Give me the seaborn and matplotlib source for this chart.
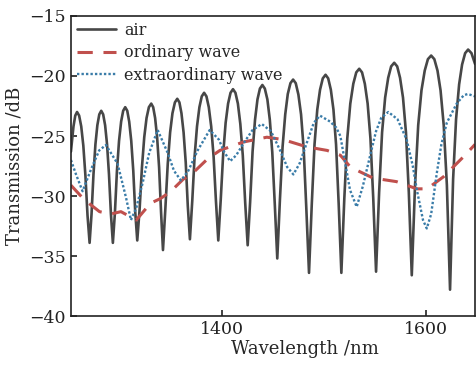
import matplotlib
matplotlib.use("Agg")
import matplotlib.pyplot as plt
import seaborn as sns

# air: transmission spectrum (one row per half fringe)
air_wl = [1252, 1254.5, 1256.25, 1258.0,
          1260.05, 1262.1, 1264.15, 1266.2, 1268.25, 1270.3,
          1272.2, 1274.1, 1276.0, 1277.9, 1279.8, 1281.7,
          1283.6, 1285.5, 1287.4, 1289.3, 1291.2, 1293.1,
          1295.1, 1297.1, 1299.15, 1301.2, 1303.2, 1305.2,
          1307.2, 1309.1, 1311.1, 1313.1, 1315.0, 1317.0,
          1319.3, 1321.6, 1323.85, 1326.1, 1328.4, 1330.7,
          1332.6, 1334.5, 1336.45, 1338.4, 1340.3, 1342.2,
          1344.5, 1346.9, 1349.2, 1351.5, 1353.9, 1356.2,
          1358.3, 1360.3, 1362.4, 1364.5, 1366.5, 1368.6,
          1370.9, 1373.2, 1375.55, 1377.9, 1380.2, 1382.5,
          1384.8, 1387.1, 1389.45, 1391.8, 1394.1, 1396.4,
          1398.8, 1401.2, 1403.6, 1406.0, 1408.4, 1410.8,
          1413.2, 1415.6, 1418.0, 1420.4, 1422.8, 1425.2,
          1427.6, 1430.0, 1432.4, 1434.8, 1437.2, 1439.6,
          1442.0, 1444.5, 1446.9, 1449.3, 1451.8, 1454.2,
          1456.8, 1459.4, 1462.0, 1464.5, 1467.1, 1469.7,
          1472.3, 1474.9, 1477.5, 1480.1, 1482.7, 1485.3,
          1488.0, 1490.7, 1493.4, 1496.1, 1498.8, 1501.5,
          1504.1, 1506.7, 1509.25, 1511.8, 1514.4, 1517.0,
          1519.9, 1522.8, 1525.75, 1528.7, 1531.6, 1534.5,
          1537.25, 1540.0, 1542.75, 1545.5, 1548.25, 1551.0,
          1554.0, 1556.9, 1559.9, 1562.9, 1565.8, 1568.8,
          1571.7, 1574.5, 1577.4, 1580.3, 1583.1, 1586.0,
          1589.2, 1592.3, 1595.5, 1598.7, 1601.8, 1605.0,
          1608.1, 1611.2, 1614.2, 1617.3, 1620.4, 1623.5,
          1626.5, 1629.4, 1632.4, 1635.3, 1638.3, 1641.2,
          1644.5, 1648]
air_db = [-26.3, -24.2, -23.3, -23.0,
          -23.3, -24.2, -25.8, -28.3, -31.6, -33.9,
          -31.5, -28.2, -25.7, -24.1, -23.2, -22.9,
          -23.2, -24.1, -25.7, -28.2, -31.5, -33.9,
          -31.4, -27.9, -25.4, -23.8, -22.9, -22.6,
          -22.9, -23.8, -25.4, -27.9, -31.3, -33.7,
          -31.1, -27.6, -25.1, -23.5, -22.6, -22.3,
          -22.6, -23.5, -25.1, -27.6, -31.3, -34.5,
          -31.1, -27.3, -24.7, -23.1, -22.2, -21.9,
          -22.2, -23.1, -24.7, -27.2, -30.8, -33.6,
          -30.4, -26.7, -24.2, -22.6, -21.7, -21.4,
          -21.7, -22.6, -24.2, -26.7, -30.4, -33.7,
          -30.3, -26.5, -23.9, -22.3, -21.4, -21.1,
          -21.4, -22.3, -24.0, -26.6, -30.6, -34.1,
          -30.5, -26.3, -23.65, -21.95, -21.05, -20.75,
          -21.05, -21.95, -23.65, -26.35, -30.75, -35.2,
          -30.3, -25.9, -23.2, -21.5, -20.6, -20.3,
          -20.6, -21.55, -23.2, -26.1, -31.1, -36.4,
          -30.7, -25.7, -22.8, -21.15, -20.2, -19.9,
          -20.2, -21.15, -22.8, -25.7, -30.7, -36.4,
          -30.2, -25.2, -22.3, -20.65, -19.7, -19.4,
          -19.7, -20.65, -22.3, -25.2, -30.2, -36.3,
          -29.7, -24.7, -21.8, -20.15, -19.2, -18.9,
          -19.2, -20.15, -21.8, -24.7, -29.7, -36.6,
          -29.1, -24.1, -21.2, -19.55, -18.6, -18.3,
          -18.6, -19.55, -21.2, -24.1, -29.1, -37.8,
          -28.6, -23.6, -20.7, -19.05, -18.1, -17.8,
          -18.1, -19.0]

# ordinary wave
ord_wl = [1252, 1265, 1280, 1291, 1301, 1316, 1330, 1340, 1350, 1362, 1370,
          1386, 1398, 1421, 1444, 1460, 1483, 1503, 1516, 1526, 1548, 1571,
          1591, 1601, 1617, 1637, 1648]
ord_db = [-29.1, -30.3, -31.3, -31.5, -31.3, -32.0, -30.6, -30.2, -29.6, -28.6,
          -28.2, -26.9, -26.2, -25.5, -25.1, -25.3, -25.9, -26.2, -26.6, -27.6,
          -28.5, -28.8, -29.4, -29.4, -28.4, -26.7, -25.7]

# extraordinary wave
ext_wl = [1252, 1257, 1263.4, 1271.6, 1279.7, 1286.3, 1297.7, 1305.9, 1310.8,
          1316, 1322.3, 1328.7, 1337, 1346.8, 1353, 1359.8, 1367, 1376.2, 1388,
          1397, 1402, 1408, 1414, 1422, 1430, 1439, 1448, 1457, 1464, 1470,
          1476, 1483, 1490, 1496, 1506, 1512, 1516, 1520, 1525.5, 1532, 1538,
          1545, 1551, 1556, 1563, 1572, 1581, 1587, 1591, 1597, 1600.7, 1605,
          1610.5, 1615, 1620.3, 1630, 1637, 1641, 1648]
ext_db = [-27.0, -28.2, -29.6, -27.8, -26.2, -25.75, -27.3, -30.1, -32.0,
          -31.0, -28.9, -26.4, -24.5, -26.4, -27.9, -28.7, -27.9, -26.2, -24.5,
          -25.3, -26.3, -27.1, -26.6, -25.5, -24.5, -24.0, -24.6, -26.2, -27.6,
          -28.2, -27.3, -25.6, -23.9, -23.3, -23.8, -24.3, -25.0, -26.9, -29.5,
          -30.9, -29.2, -26.7, -24.6, -23.5, -23.0, -23.6, -25.3, -27.5, -29.5,
          -32.0, -32.7, -31.5, -28.1, -25.7, -23.9, -22.3, -21.6, -21.5, -21.7]

sns.set_style("ticks")
plt.rcParams["font.family"] = ["DejaVu Serif"]

fig = plt.figure(figsize=(4.76, 3.71), dpi=100)
ax = fig.add_axes([0.149, 0.148, 0.849, 0.809])

sns.lineplot(x=air_wl, y=air_db, ax=ax, color="#474747", linewidth=1.9,
             estimator=None, sort=False, label="air")
sns.lineplot(x=ord_wl, y=ord_db, ax=ax, color="#c0504d", linewidth=2.2,
             linestyle=(0, (5, 3.5)), estimator=None, sort=False,
             label="ordinary wave")
sns.lineplot(x=ext_wl, y=ext_db, ax=ax, color="#3a7ca8", linewidth=1.7,
             linestyle=(0, (1, 0.9)), estimator=None, sort=False,
             label="extraordinary wave")

ax.set_xlim(1252, 1648)
ax.set_ylim(-40, -15)
ax.set_xticks([1400, 1600])
ax.set_yticks([-40, -35, -30, -25, -20, -15])
ax.tick_params(direction="in", length=4, width=1.2, labelsize=12.5,
               colors="#222222")
for s in ax.spines.values():
    s.set_color("#222222")
    s.set_linewidth(1.2)

ax.set_xlabel("Wavelength /nm", fontsize=13)
ax.set_ylabel("Transmission /dB", fontsize=13)
ax.xaxis.set_label_coords(0.58, -0.08)

ax.legend(loc="upper left", frameon=False, fontsize=11.5, handlelength=2.5,
          labelspacing=0.35, handletextpad=0.5, borderaxespad=0.15,
          borderpad=0.2)

fig.savefig("out.png", dpi=100)
